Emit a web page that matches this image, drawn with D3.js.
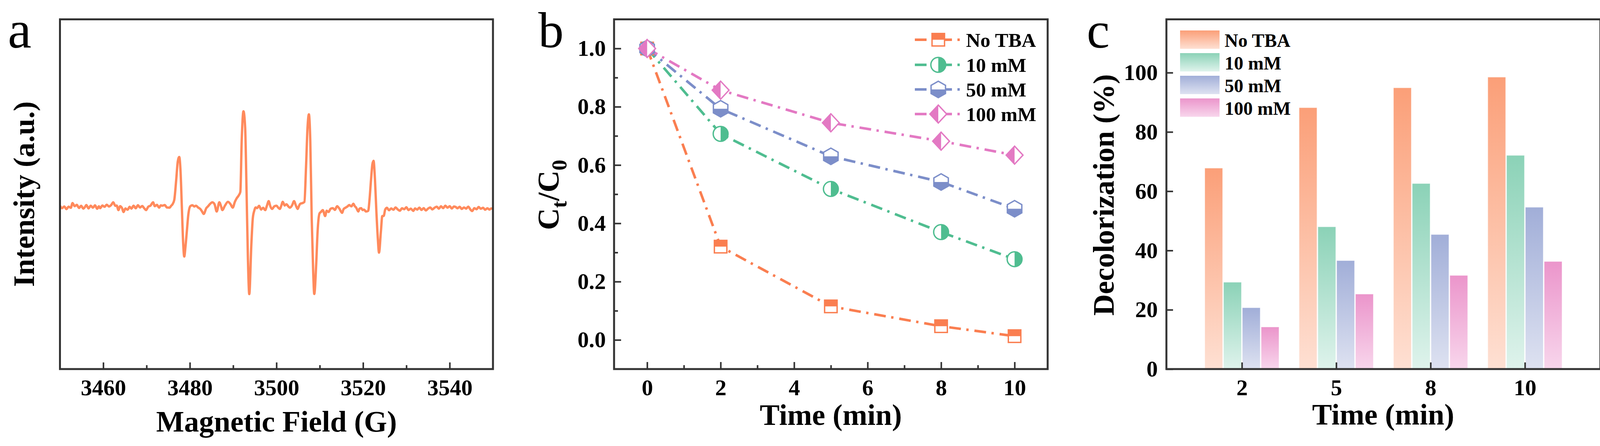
<!DOCTYPE html>
<html>
<head>
<meta charset="utf-8">
<script src="https://cdn.jsdelivr.net/npm/d3@7"></script>
<style>
  body { margin: 0; background: #fff; }
</style>
</head>
<body>
<svg id="fig"></svg>
<script>
// ---- panel a: EPR spectrum, [field (G), intensity (a.u.)]
const eprSpectrum = [
  [3450.0, 0.9], [3450.5, -0.6], [3451.0, 0.4], [3451.5, -1.2], [3452.0, 0.3], [3452.5, -0.4],
  [3452.9, 2.5], [3453.4, 0.6], [3453.9, 1.4], [3454.4, -0.5], [3454.9, 0.8], [3455.4, -0.9],
  [3455.8, 0.2], [3456.1, 1.3], [3456.6, -0.8], [3457.1, 0.9], [3457.6, -0.3], [3458.1, 1.1],
  [3458.6, -1.0], [3459.0, 0.5], [3459.3, -0.6], [3459.8, 1.0], [3460.3, 0.2], [3460.8, 1.5],
  [3461.3, 0.4], [3461.8, 1.2], [3462.3, 3.0], [3462.8, 0.8], [3463.1, 1.0], [3463.5, -1.8],
  [3463.9, 0.6], [3464.3, -0.4], [3464.7, -3.0], [3465.1, -0.8], [3465.6, -1.6], [3466.1, 0.2],
  [3466.5, -0.9], [3467.0, 0.9], [3467.5, -0.7], [3468.0, 1.2], [3468.5, -0.2], [3469.0, 0.7],
  [3469.4, -0.5], [3469.9, -1.8], [3470.4, 0.3], [3470.9, 0.9], [3471.5, 3.0], [3471.9, 0.6],
  [3472.4, 1.4], [3472.9, -0.3], [3473.3, 1.1], [3473.7, 0.9], [3474.2, 1.3], [3474.7, -0.2],
  [3475.3, -0.3], [3475.7, 0.9], [3476.0, 1.8], [3476.4, 4.5], [3476.85, 17], [3477.2, 28],
  [3477.55, 31], [3477.85, 22], [3478.15, 0], [3478.45, -22], [3478.7, -30.5], [3479.0, -24],
  [3479.3, -15], [3479.64, -4.7], [3480.1, 0.6], [3480.6, 1.2], [3481.0, 0.4], [3481.4, 0.9],
  [3481.9, -0.2], [3482.4, -1.1], [3482.8, -2.6], [3483.2, -4.2], [3483.8, -0.6], [3484.2, 0.5],
  [3484.6, 1.8], [3485.2, 3.0], [3485.7, 1.8], [3486.2, -2.7], [3486.8, 3.0], [3487.2, 0.6],
  [3487.5, -1.8], [3488.1, 0.9], [3488.8, 3.3], [3489.4, 1.8], [3489.9, -0.3], [3490.4, 3.3],
  [3490.8, 5.4], [3491.3, 7.3], [3491.66, 9.5], [3491.97, 41], [3492.38, 59.2], [3492.77, 49],
  [3493.1, 9], [3493.4, -31], [3493.72, -53.7], [3494.2, -23], [3494.53, -7], [3494.86, -2.3],
  [3495.2, -0.2], [3495.5, -0.6], [3496.0, 0.8], [3496.45, -1.5], [3496.9, -0.4], [3497.4, -1.8],
  [3497.8, 0.9], [3498.2, 3.7], [3498.6, 0.4], [3499.0, -1.1], [3499.5, 0.5], [3500.0, 0.9],
  [3500.4, -0.3], [3500.8, -1.1], [3501.1, 0.8], [3501.46, 3.3], [3501.9, 1.0], [3502.3, 1.8],
  [3502.7, 0.6], [3503.1, -0.3], [3503.6, 1.1], [3504.06, 3.7], [3504.5, 0.9], [3504.9, -1.1],
  [3505.2, 0.7], [3505.5, 2.1], [3506.0, 2.5], [3506.45, 3.2], [3506.83, 25], [3507.17, 49],
  [3507.49, 57.3], [3507.81, 41], [3508.14, -7], [3508.47, -39], [3508.73, -53.6], [3509.18, -35],
  [3509.5, -15], [3509.94, -3.9], [3510.26, -3.0], [3510.7, -1.8], [3511.24, -5.5], [3511.6, -2.2],
  [3512.05, -3.0], [3512.5, -1.0], [3513.0, -0.6], [3513.5, -1.7], [3514.0, 0.6], [3514.5, -0.8],
  [3515.15, -3.5], [3515.5, -1.2], [3515.96, -0.3], [3516.4, 0.4], [3516.8, 1.3], [3517.3, 0.5],
  [3517.76, 2.1], [3518.1, 0.6], [3518.41, -0.3], [3518.9, -2.7], [3519.2, -0.9], [3519.55, -0.6],
  [3519.9, -1.8], [3520.2, -1.5], [3520.69, -2.7], [3521.18, -2.3], [3521.5, 5], [3521.84, 17],
  [3522.16, 26.6], [3522.42, 28.6], [3522.75, 17], [3523.08, -3], [3523.4, -19], [3523.68, -28.1],
  [3524.12, -15], [3524.44, -5.5], [3524.77, -5.4], [3525.1, -1.6], [3525.5, -0.4], [3526.0, -1.9],
  [3526.5, -0.8], [3527.0, -1.6], [3527.5, -0.2], [3528.0, -1.4], [3528.5, -2.2], [3529.0, -0.7],
  [3529.5, -1.3], [3530.0, -0.1], [3530.5, -1.8], [3531.0, -0.9], [3531.6, -2.3], [3532.0, -0.8],
  [3532.5, -1.5], [3533.0, -0.3], [3533.5, -1.7], [3534.0, -0.6], [3534.5, -2.0], [3535.0, -0.9],
  [3535.5, -0.2], [3536.0, -1.4], [3536.5, -0.4], [3537.0, 0.3], [3537.5, -0.9], [3538.0, 0.5],
  [3538.5, -0.6], [3539.0, 0.9], [3539.5, -0.3], [3540.0, 0.6], [3540.5, -0.8], [3541.0, 0.4],
  [3541.4, 0.1], [3541.8, -0.7], [3542.3, 0.2], [3542.8, -1.1], [3543.3, -0.2], [3543.8, -0.9],
  [3544.3, 0.3], [3544.8, -1.5], [3545.2, -2.4], [3545.7, -0.6], [3546.2, -1.3], [3546.7, 0.1],
  [3547.2, -1.0], [3547.7, -0.4], [3548.2, -1.6], [3548.7, -0.7], [3549.2, -1.5], [3549.6, -0.8],
  [3550.0, -1.1]
]
const eprTicks = [3460, 3480, 3500, 3520, 3540]
const eprMinorTicks = [3470, 3490, 3510, 3530]

// ---- panel b: Ct/C0 vs time
const times = [0, 2, 5, 8, 10]
const seriesNames = ['No TBA', '10 mM', '50 mM', '100 mM']
const ratioNoTBA = [1.0, 0.32, 0.115, 0.047, 0.013]
const ratio10 = [1.0, 0.707, 0.518, 0.37, 0.277]
const ratio50 = [1.0, 0.793, 0.63, 0.542, 0.45]
const ratio100 = [1.0, 0.857, 0.745, 0.682, 0.634]
const timeTicks = [0, 2, 4, 6, 8, 10]
const timeMinorTicks = [1, 3, 5, 7, 9]
const ratioTicks = [0, 0.2, 0.4, 0.6, 0.8, 1.0]
const ratioMinorTicks = [0.1, 0.3, 0.5, 0.7, 0.9]

// ---- panel c: decolorization (%) bars
const barTimes = ['2', '5', '8', '10']
const decolNoTBA = [67.8, 88.2, 94.9, 98.5]
const decol10 = [29.3, 48.0, 62.6, 72.1]
const decol50 = [20.7, 36.6, 45.4, 54.6]
const decol100 = [14.2, 25.3, 31.6, 36.3]
const decolTicks = [0, 20, 40, 60, 80, 100]

const W = 4153
const H = 1142
const frameTop = 49.5
const frameBottom = 945
const serif = '"Liberation Serif", "Times New Roman", serif'
const ink = '#333'
const lineColors = ['#FA7E50', '#4FBD90', '#7C8EC9', '#E379C3']
const barTop = ['#FB9F78', '#8BD2B7', '#A1AED8', '#EB95CB']
const barBottom = ['#FEE0D3', '#DFF3EC', '#DEE2F1', '#F8D6EC']

const svg = d3.select('#fig').attr('width', W).attr('height', H)
svg.append('rect').attr('width', W).attr('height', H).attr('fill', '#fff')
const defs = svg.append('defs')

let styleAxis = (g) => {
  g.attr('font-family', serif).attr('font-size', 58).attr('font-weight', 'bold')
  g.select('.domain').remove()
  g.selectAll('.tick line').attr('stroke', ink).attr('stroke-width', 4)
  g.selectAll('.tick text').attr('fill', '#000')
}

let drawFrame = (x0, x1) => {
  svg.append('rect')
    .attr('x', x0).attr('y', frameTop)
    .attr('width', x1 - x0).attr('height', frameBottom - frameTop)
    .attr('fill', 'none').attr('stroke', ink).attr('stroke-width', 5)
}

let title = (text, x, y, rotate) => {
  let t = svg.append('text')
    .attr('font-family', serif).attr('font-weight', 'bold').attr('font-size', 76)
    .attr('text-anchor', 'middle').attr('fill', '#000')
  if (rotate) t.attr('transform', 'translate(' + x + ',' + y + ') rotate(-90)')
  else t.attr('x', x).attr('y', y)
  t.text(text)
  return t
}

let panelLetter = (letter, x, y, size) => {
  svg.append('text').attr('x', x).attr('y', y)
    .attr('font-family', serif).attr('font-size', size).attr('fill', '#000')
    .text(letter)
}

// ================= panel a =================
const xA = d3.scaleLinear().domain([3450, 3550]).range([153.5, 1262])
const yA = d3.scaleLinear().domain([-100, 116]).range([frameBottom, frameTop])

defs.append('clipPath').attr('id', 'clipA')
  .append('rect').attr('x', 153.5).attr('y', frameTop).attr('width', 1262 - 153.5).attr('height', frameBottom - frameTop)

svg.append('path')
  .datum(eprSpectrum)
  .attr('clip-path', 'url(#clipA)')
  .attr('fill', 'none')
  .attr('stroke', '#FF8A5C')
  .attr('stroke-width', 6)
  .attr('stroke-linejoin', 'round')
  .attr('d', d3.line().x(d => xA(d[0])).y(d => yA(d[1])).curve(d3.curveMonotoneX))

svg.append('g').attr('transform', 'translate(0,' + frameBottom + ')')
  .call(d3.axisBottom(xA).tickValues(eprTicks).tickSize(-17).tickPadding(26).tickFormat(d3.format('d')))
  .call(styleAxis)
svg.append('g').attr('transform', 'translate(0,' + frameBottom + ')')
  .call(d3.axisBottom(xA).tickValues(eprMinorTicks).tickSize(-10).tickFormat(''))
  .call(styleAxis)

drawFrame(153.5, 1262)
title('Magnetic Field (G)', 708, 1105, false)
title('Intensity (a.u.)', 87, 497, true)
panelLetter('a', 20, 122, 136)

// ================= panel b =================
const xB = d3.scaleLinear().domain([-0.9, 10.9]).range([1572, 2682])
const yB = d3.scaleLinear().domain([-0.1, 1.1]).range([frameBottom, frameTop])
const ratios = [ratioNoTBA, ratio10, ratio50, ratio100]
const dashes = '30,14,6,15'

// marker shapes centred on 0,0 and the half of each that is filled
const markerPaths = [
  'M-16,-16H16V16H-16Z',
  'M-19,0A19,19 0 1,0 19,0A19,19 0 1,0 -19,0Z',
  'M0,-21L18.5,-10.5L18.5,10.5L0,21L-18.5,10.5L-18.5,-10.5Z',
  'M0,-23L21.5,0L0,23L-21.5,0Z'
]
const halfRects = [
  [-30, -30, 60, 30],
  [0, -30, 30, 60],
  [-30, 0, 60, 30],
  [-30, -30, 30, 60]
]
halfRects.forEach((r, i) => {
  defs.append('clipPath').attr('id', 'half' + i)
    .append('rect').attr('x', r[0]).attr('y', r[1]).attr('width', r[2]).attr('height', r[3])
})

let drawMarker = (parent, i, x, y) => {
  let g = parent.append('g').attr('transform', 'translate(' + x + ',' + y + ')')
  g.append('path').attr('d', markerPaths[i]).attr('fill', '#fff')
  g.append('path').attr('d', markerPaths[i]).attr('fill', lineColors[i]).attr('clip-path', 'url(#half' + i + ')')
  g.append('path').attr('d', markerPaths[i]).attr('fill', 'none')
    .attr('stroke', lineColors[i]).attr('stroke-width', 3.5)
}

svg.append('g').attr('transform', 'translate(0,' + frameBottom + ')')
  .call(d3.axisBottom(xB).tickValues(timeTicks).tickSize(-18).tickPadding(26))
  .call(styleAxis)
svg.append('g').attr('transform', 'translate(0,' + frameBottom + ')')
  .call(d3.axisBottom(xB).tickValues(timeMinorTicks).tickSize(-10).tickFormat(''))
  .call(styleAxis)
svg.append('g').attr('transform', 'translate(1572,0)')
  .call(d3.axisLeft(yB).tickValues(ratioTicks).tickSize(-18).tickPadding(21).tickFormat(d3.format('.1f')))
  .call(styleAxis)
svg.append('g').attr('transform', 'translate(1572,0)')
  .call(d3.axisLeft(yB).tickValues(ratioMinorTicks).tickSize(-10).tickFormat(''))
  .call(styleAxis)

const lineB = d3.line().x((d, k) => xB(times[k])).y(d => yB(d))
ratios.forEach((vals, i) => {
  svg.append('path').datum(vals)
    .attr('fill', 'none').attr('stroke', lineColors[i]).attr('stroke-width', 6.5)
    .attr('stroke-dasharray', dashes)
    .attr('d', lineB)
})
let markerLayer = svg.append('g')
ratios.forEach((vals, i) => {
  vals.forEach((v, k) => drawMarker(markerLayer, i, xB(times[k]), yB(v)))
})

// legend b
const legendRowsB = [101.7, 166, 229, 292]
seriesNames.forEach((name, i) => {
  let y = legendRowsB[i]
  svg.append('line').attr('x1', 2342).attr('x2', 2459).attr('y1', y).attr('y2', y)
    .attr('stroke', lineColors[i]).attr('stroke-width', 6.5).attr('stroke-dasharray', dashes)
  drawMarker(svg, i, 2402, y)
  svg.append('text').attr('x', 2473).attr('y', y + 18)
    .attr('font-family', serif).attr('font-weight', 'bold').attr('font-size', 51)
    .text(name)
})

drawFrame(1572, 2682)
title('Time (min)', 2127, 1088, false)
let ct = svg.append('text')
  .attr('font-family', serif).attr('font-weight', 'bold').attr('font-size', 78)
  .attr('text-anchor', 'middle').attr('fill', '#000')
  .attr('transform', 'translate(1430,499) rotate(-90)')
ct.append('tspan').text('C')
ct.append('tspan').attr('font-size', 55).attr('dy', 20).text('t')
ct.append('tspan').attr('dy', -20).text('/C')
ct.append('tspan').attr('font-size', 55).attr('dy', 20).text('0')
panelLetter('b', 1378, 121, 130)

// ================= panel c =================
const xC = d3.scalePoint().domain(barTimes).range([2986, 4097]).padding(0.8)
const subC = d3.scaleBand().domain(seriesNames).range([-95, 95]).paddingInner(0.05)
const yC = d3.scaleLinear().domain([0, 118]).range([frameBottom, frameTop])
const decol = [decolNoTBA, decol10, decol50, decol100]

barTop.forEach((c, i) => {
  let grad = defs.append('linearGradient').attr('id', 'bar' + i)
    .attr('x1', 0).attr('y1', 0).attr('x2', 0).attr('y2', 1)
  grad.append('stop').attr('offset', 0).attr('stop-color', c)
  grad.append('stop').attr('offset', 1).attr('stop-color', barBottom[i])
})

seriesNames.forEach((name, i) => {
  svg.append('g').selectAll('rect')
    .data(decol[i])
    .enter()
    .append('rect')
    .attr('x', (d, k) => xC(barTimes[k]) + subC(name))
    .attr('width', subC.bandwidth())
    .attr('y', d => yC(d))
    .attr('height', d => yC(0) - yC(d))
    .attr('fill', 'url(#bar' + i + ')')
    .attr('stroke', '#fff').attr('stroke-opacity', 0.5).attr('stroke-width', 1.5)
})

svg.append('g').attr('transform', 'translate(0,' + frameBottom + ')')
  .call(d3.axisBottom(xC).tickSize(-17).tickPadding(26))
  .call(styleAxis)
svg.append('g').attr('transform', 'translate(2986,0)')
  .call(d3.axisLeft(yC).tickValues(decolTicks).tickSize(-17).tickPadding(22).tickFormat(d3.format('d')))
  .call(styleAxis)

// legend c
const legendTopsC = [78, 136, 194, 252]
seriesNames.forEach((name, i) => {
  svg.append('rect').attr('x', 3021).attr('y', legendTopsC[i])
    .attr('width', 101).attr('height', 47).attr('fill', 'url(#bar' + i + ')')
  svg.append('text').attr('x', 3135).attr('y', legendTopsC[i] + 42)
    .attr('font-family', serif).attr('font-weight', 'bold').attr('font-size', 48)
    .text(name)
})

drawFrame(2986, 4097)
title('Time (min)', 3541, 1087, false)
title('Decolorization (%)', 2851, 499, true)
panelLetter('c', 2782, 122, 132)
</script>
</body>
</html>
